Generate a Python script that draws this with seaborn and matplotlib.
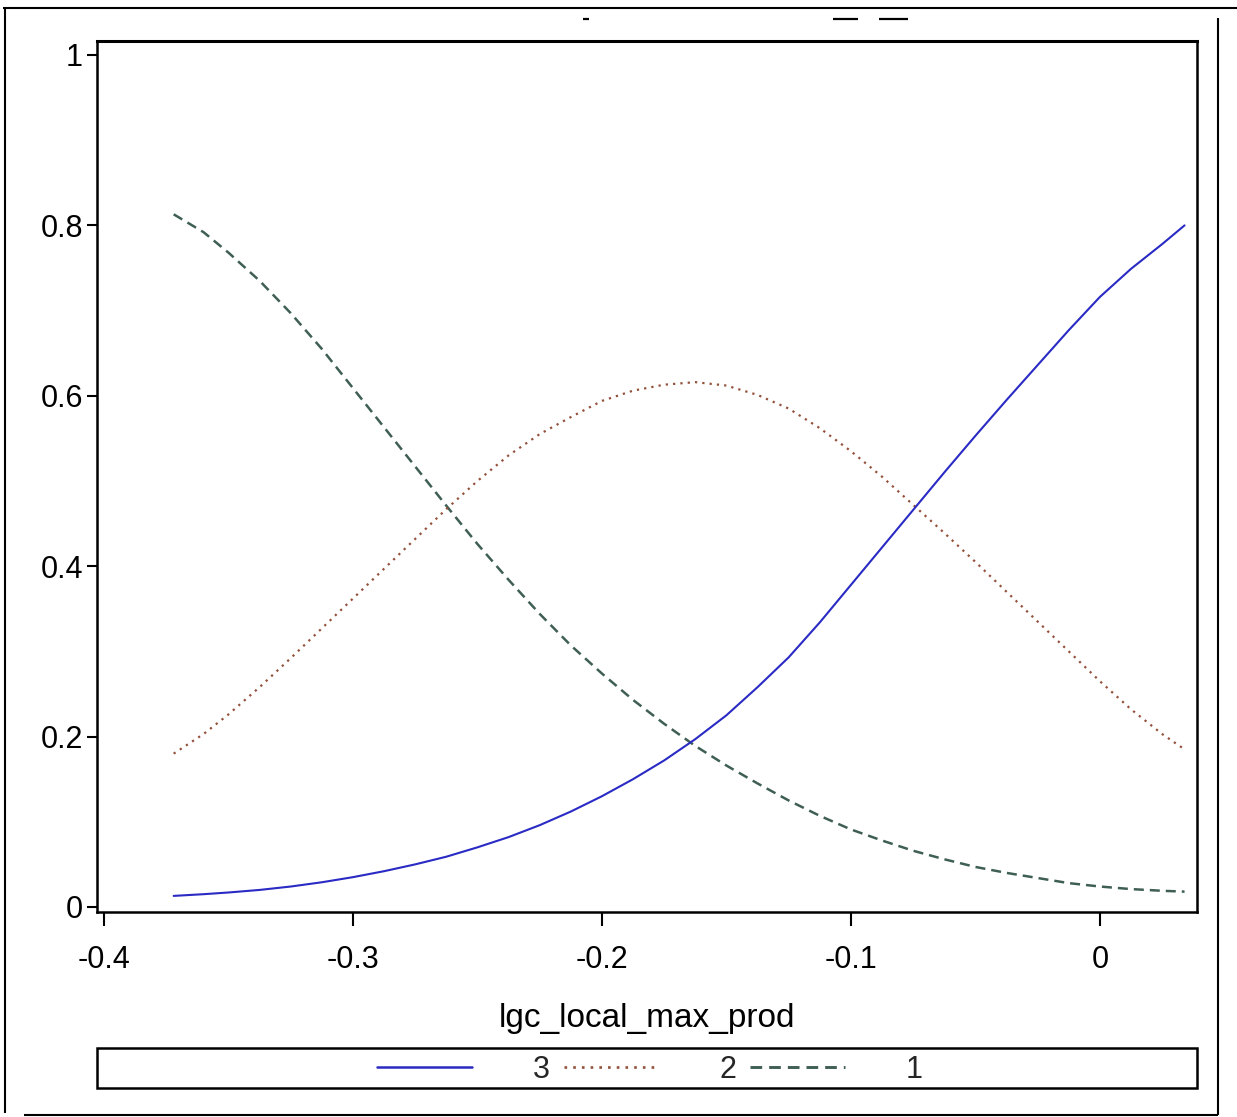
import matplotlib
matplotlib.use("Agg")
import matplotlib.pyplot as plt
import seaborn as sns
import pandas as pd
from matplotlib.lines import Line2D
from matplotlib.patches import Rectangle

# Predicted probabilities of each outcome level across lgc_local_max_prod
x_vals = [-0.372, -0.36, -0.35, -0.3375, -0.325, -0.3125, -0.3, -0.2875, -0.275,
          -0.2625, -0.25, -0.2375, -0.225, -0.2125, -0.2, -0.1875, -0.175,
          -0.1625, -0.15, -0.1375, -0.125, -0.1125, -0.1, -0.0875, -0.075,
          -0.0625, -0.05, -0.0375, -0.025, -0.0125, 0.0, 0.0125, 0.025, 0.034]
prob_level_1 = [0.813, 0.792, 0.768, 0.735, 0.697, 0.655, 0.609, 0.563, 0.517,
                0.471, 0.426, 0.384, 0.344, 0.307, 0.274, 0.243, 0.215,
                0.189, 0.166, 0.145, 0.125, 0.107, 0.091, 0.078, 0.066,
                0.056, 0.047, 0.04, 0.034, 0.028, 0.024, 0.021, 0.019, 0.018]
prob_level_2 = [0.18, 0.203, 0.226, 0.258, 0.292, 0.327, 0.362, 0.397, 0.432,
                0.467, 0.5, 0.53, 0.555, 0.575, 0.594, 0.606, 0.613,
                0.616, 0.612, 0.601, 0.585, 0.562, 0.535, 0.505, 0.472,
                0.439, 0.405, 0.37, 0.335, 0.3, 0.265, 0.232, 0.203, 0.185]
prob_level_3 = [0.013, 0.015, 0.017, 0.02, 0.024, 0.029, 0.035, 0.042, 0.05,
                0.059, 0.07, 0.082, 0.096, 0.112, 0.13, 0.15, 0.172,
                0.197, 0.225, 0.258, 0.293, 0.334, 0.378, 0.422, 0.466,
                0.51, 0.553, 0.595, 0.636, 0.677, 0.716, 0.749, 0.778, 0.80]

legend_levels = ["3", "2", "1"]
x_ticks = [-0.4, -0.3, -0.2, -0.1, 0.0]
x_tick_labels = ["-0.4", "-0.3", "-0.2", "-0.1", "0"]
y_ticks = [0, 0.2, 0.4, 0.6, 0.8, 1.0]
y_tick_labels = ["0", "0.2", "0.4", "0.6", "0.8", "1"]
x_label = "lgc_local_max_prod"

sns.set_style("white")
plt.rcParams["font.family"] = ["Liberation Sans Narrow", "Liberation Sans", "DejaVu Sans"]
plt.rcParams["axes.unicode_minus"] = False

W, H = 1237, 1117
fig = plt.figure(figsize=(W / 100, H / 100), dpi=100)
fig.patch.set_facecolor("white")

ax = fig.add_axes([97 / W, 1 - 912 / H, 1100 / W, 871 / H])

n = len(x_vals)
df = pd.DataFrame({
    "x": x_vals * 3,
    "prob": prob_level_3 + prob_level_2 + prob_level_1,
    "level": ["3"] * n + ["2"] * n + ["1"] * n,
})

styles = {
    "3": dict(color="#2a2ac4", lw=1.5, ls="-"),
    "2": dict(color="#93503a", lw=1.6, ls=(0, (1, 2.3))),
    "1": dict(color="#3f5f55", lw=1.8, ls=(0, (4, 2.4))),
}

for lvl in ["1", "2", "3"]:
    sub = df[df["level"] == lvl]
    st = styles[lvl]
    sns.lineplot(data=sub, x="x", y="prob", ax=ax, color=st["color"],
                 linewidth=st["lw"], linestyle=st["ls"], legend=False)

ax.set_xlim(-0.4028, 0.039)
ax.set_ylim(-0.0059, 1.0164)
ax.set_xticks(x_ticks)
ax.set_xticklabels(x_tick_labels)
ax.set_yticks(y_ticks)
ax.set_yticklabels(y_tick_labels)
ax.tick_params(axis="x", direction="out", length=10, width=1.5, pad=14,
               labelsize=22, colors="black", bottom=True)
ax.tick_params(axis="y", direction="out", length=7, width=1.5, pad=3,
               labelsize=22, colors="black", left=True)
for sp in ax.spines.values():
    sp.set_visible(True)
    sp.set_color("black")
    sp.set_linewidth(1.8)
ax.spines["top"].set_linewidth(2.2)

ax.set_ylabel("")
ax.set_xlabel(x_label, fontsize=24, color="black")
ax.xaxis.set_label_coords(0.5, (912 - 1003) / 871)

# Legend: frameless entries inside a drawn box
handles = [Line2D([], [], color=styles[l]["color"], lw=styles[l]["lw"] + 0.3,
                  ls=styles[l]["ls"]) for l in legend_levels]
fig.legend(handles, legend_levels, loc="center",
           bbox_to_anchor=(650 / W, 1 - 1070 / H), ncol=3, frameon=False,
           fontsize=22, handlelength=3.1, handletextpad=2.0,
           columnspacing=0.45, borderpad=0.2)
fig.add_artist(Rectangle((97 / W, 1 - 1088 / H), 1100 / W, 40 / H,
                         transform=fig.transFigure, fill=False,
                         ec="black", lw=1.8))

# Page frame around the graph
def fig_line(x0, y0, x1, y1, lw=1.5):
    fig.add_artist(Line2D([x0 / W, x1 / W], [1 - y0 / H, 1 - y1 / H],
                          transform=fig.transFigure, color="black", lw=lw,
                          solid_capstyle="butt"))

fig_line(3, 8, 1237, 8)
fig_line(5, 8, 5, 1113)
fig_line(1218, 18, 1218, 1115)
fig_line(24, 1115, 1218, 1115)

# Remnants of the clipped title line
fig_line(583, 19, 589, 19, lw=1.6)
fig_line(833, 19, 858, 19, lw=1.6)
fig_line(879, 19, 908, 19, lw=1.6)

fig.savefig("out.png", dpi=100, facecolor="white")
